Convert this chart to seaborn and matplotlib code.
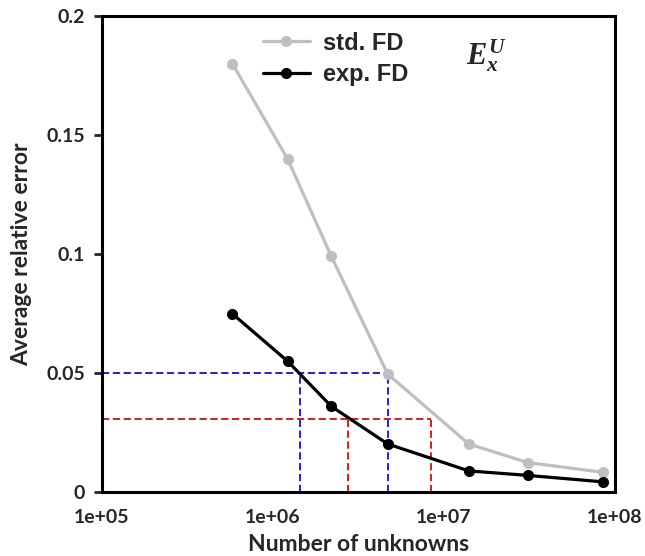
import math
import pandas as pd
import seaborn as sns
import matplotlib.pyplot as plt
from matplotlib.ticker import FixedLocator, FuncFormatter, NullLocator

# Dane
unknowns = [5.8e5, 1.22e6, 2.2e6, 4.7e6, 1.4e7, 3.1e7, 8.5e7]
std_fd = [0.180, 0.140, 0.099, 0.0496, 0.0202, 0.0124, 0.0083]
exp_fd = [0.0749, 0.0550, 0.0360, 0.0202, 0.0089, 0.0070, 0.0043]

# Linie pomocnicze (poziom błędu, N dla exp. FD, N dla std. FD)
blue_level, blue_exp, blue_std = 0.05, 1.44e6, 4.7e6
red_level, red_exp, red_std = 0.0307, 2.77e6, 8.4e6

sns.set_style('white')
plt.rcParams['mathtext.fontset'] = 'custom'
plt.rcParams['mathtext.it'] = 'Liberation Serif:italic:bold'
plt.rcParams['mathtext.rm'] = 'Liberation Serif:bold'

df = pd.DataFrame({
    'N': unknowns * 2,
    'err': std_fd + exp_fd,
    'method': ['std. FD'] * len(unknowns) + ['exp. FD'] * len(unknowns),
})

fig = plt.figure(figsize=(6.45, 5.56), dpi=100)
ax = fig.add_axes([0.158, 0.115, 0.795, 0.856])

# Linie przerywane
dash = dict(ls='--', lw=1.3, dashes=(4, 2))
ax.plot([1e5, blue_std], [blue_level, blue_level], color='#1010d0', **dash)
ax.plot([blue_exp, blue_exp], [0, blue_level], color='#1010d0', **dash)
ax.plot([blue_std, blue_std], [0, blue_level], color='#1010d0', **dash)
ax.plot([1e5, red_std], [red_level, red_level], color='#c81010', **dash)
ax.plot([red_exp, red_exp], [0, red_level], color='#c81010', **dash)
ax.plot([red_std, red_std], [0, red_level], color='#c81010', **dash)

sns.lineplot(data=df, x='N', y='err', hue='method', ax=ax,
             palette={'std. FD': '#bfbfbf', 'exp. FD': 'black'},
             marker='o', markersize=8, markeredgewidth=0, linewidth=2.3)

ax.set_xscale('log')
ax.set_xlim(1e5, 1e8)
ax.set_ylim(0, 0.2)
ax.xaxis.set_major_locator(FixedLocator([1e5, 1e6, 1e7, 1e8]))
ax.xaxis.set_minor_locator(NullLocator())
ax.xaxis.set_major_formatter(FuncFormatter(lambda v, p: '1e+%02d' % round(math.log10(v))))
ax.set_yticks([0, 0.05, 0.1, 0.15, 0.2])
ax.set_yticklabels(['0', '0.05', '0.1', '0.15', '0.2'])

for s in ax.spines.values():
    s.set_linewidth(2.2)
    s.set_color('black')

ax.tick_params(axis='x', direction='in', length=8, width=2, pad=12,
               labelsize=14)
ax.tick_params(axis='y', direction='out', length=6, width=2, pad=6,
               labelsize=14, left=True)
for lab in ax.get_xticklabels() + ax.get_yticklabels():
    lab.set_fontfamily('Lato')
    lab.set_fontweight('bold')

ax.set_xlabel('Number of unknowns', fontsize=16.5, fontfamily='Lato',
              fontweight='bold', labelpad=6)
ax.set_ylabel('Average relative error', fontsize=16.5, fontfamily='Lato',
              fontweight='bold', labelpad=10)

leg = ax.legend(loc='upper left', bbox_to_anchor=(0.272, 1.012), frameon=False,
                prop={'family': 'Liberation Sans', 'weight': 'bold', 'size': 17},
                handlelength=2.0, handletextpad=0.55, labelspacing=0.35)

ax.text(0.711, 0.955, r'$E_x^U$', transform=ax.transAxes, fontsize=22,
        ha='left', va='top')

fig.savefig('out.png', dpi=100)
